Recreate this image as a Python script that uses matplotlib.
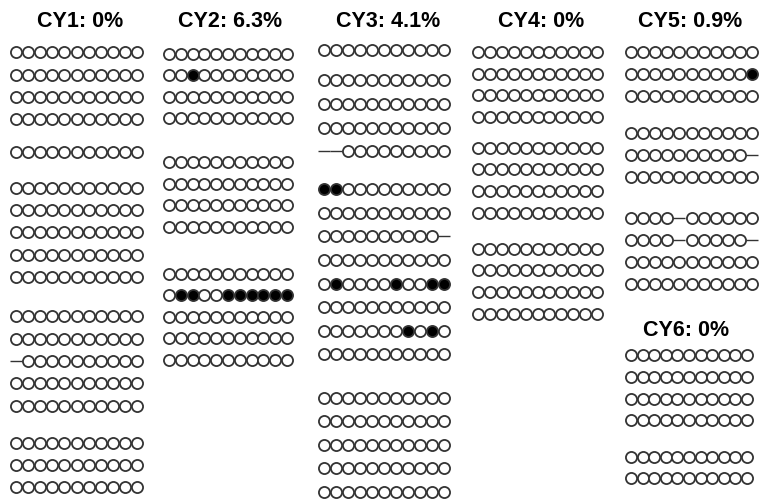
import matplotlib.pyplot as plt

# methylation patterns per clone: 0 = unmethylated, 1 = methylated, - = site missing
# each sample is a list of clone groups
samples = ['CY1', 'CY2', 'CY3', 'CY4', 'CY5', 'CY6']
percent = ['0%', '6.3%', '4.1%', '0%', '0.9%', '0%']

cy1 = [
    ['00000000000'] * 4,
    ['00000000000'],
    ['00000000000'] * 5,
    ['00000000000', '00000000000', '-0000000000', '00000000000', '00000000000'],
    ['00000000000'] * 3,
]
cy2 = [
    ['00000000000', '00100000000', '00000000000', '00000000000'],
    ['00000000000'] * 4,
    ['00000000000', '01100111111', '00000000000', '00000000000', '00000000000'],
]
cy3 = [
    ['00000000000'],
    ['00000000000', '00000000000', '00000000000', '--000000000'],
    ['11000000000', '00000000000', '0000000000-', '00000000000',
     '01000010011', '00000000000', '00000001010', '00000000000'],
    ['00000000000'] * 5,
]
cy4 = [
    ['00000000000'] * 4,
    ['00000000000'] * 4,
    ['00000000000'] * 4,
]
cy5 = [
    ['00000000000', '00000000001', '00000000000'],
    ['00000000000', '0000000000-', '00000000000'],
    ['0000-000000', '0000-00000-', '00000000000', '00000000000'],
]
cy6 = [
    ['00000000000'] * 4,
    ['00000000000'] * 2,
]
patterns = [cy1, cy2, cy3, cy4, cy5, cy6]

# layout in pixels: first circle x, circle pitch, first row y, row pitch, gaps between groups, title pos
layout = {
    'CY1': dict(x0=16, dx=12.1, y0=52.3, dy=22.3, gaps=[10.5, 13.3, 17.3, 14.8], tx=80, ty=27),
    'CY2': dict(x0=169, dx=11.8, y0=53.6, dy=21.6, gaps=[21.9, 25.2], tx=230, ty=27),
    'CY3': dict(x0=324, dx=12.0, y0=50, dy=23.6, gaps=[6.7, 14.5, 19.6], tx=388, ty=27),
    'CY4': dict(x0=478, dx=11.9, y0=52, dy=21.7, gaps=[8.9, 14.0], tx=541, ty=27),
    'CY5': dict(x0=631, dx=12.1, y0=52.3, dy=22.0, gaps=[14.7, 19.3], tx=690, ty=27),
    'CY6': dict(x0=631, dx=11.6, y0=355.2, dy=21.7, gaps=[14.7], tx=686, ty=336),
}

edge = '#333333'

fig = plt.figure(figsize=(7.59, 5.04), dpi=100)
ax = fig.add_axes([0, 0, 1, 1])
ax.set_xlim(0, 759)
ax.set_ylim(504, 0)
ax.axis('off')

for name, pct, groups in zip(samples, percent, patterns):
    lay = layout[name]
    ax.text(lay['tx'], lay['ty'], f'{name}: {pct}', ha='center', va='baseline',
            fontsize=15.5, fontweight='bold', family='Liberation Sans')
    row = 0
    offset = 0.0
    for g, clones in enumerate(groups):
        if g > 0:
            offset += lay['gaps'][g - 1]
        for clone in clones:
            y = lay['y0'] + row * lay['dy'] + offset
            for i, site in enumerate(clone):
                x = lay['x0'] + i * lay['dx']
                if site == '-':
                    ax.plot([x - lay['dx'] / 2, x + lay['dx'] / 2], [y, y],
                            color=edge, lw=1.0, solid_capstyle='butt', zorder=1)
                else:
                    face = 'black' if site == '1' else 'white'
                    ax.scatter(x, y, s=64, facecolor=face, edgecolor=edge,
                               linewidth=1.3, zorder=2)
            row += 1

fig.savefig('out.png', dpi=100)
